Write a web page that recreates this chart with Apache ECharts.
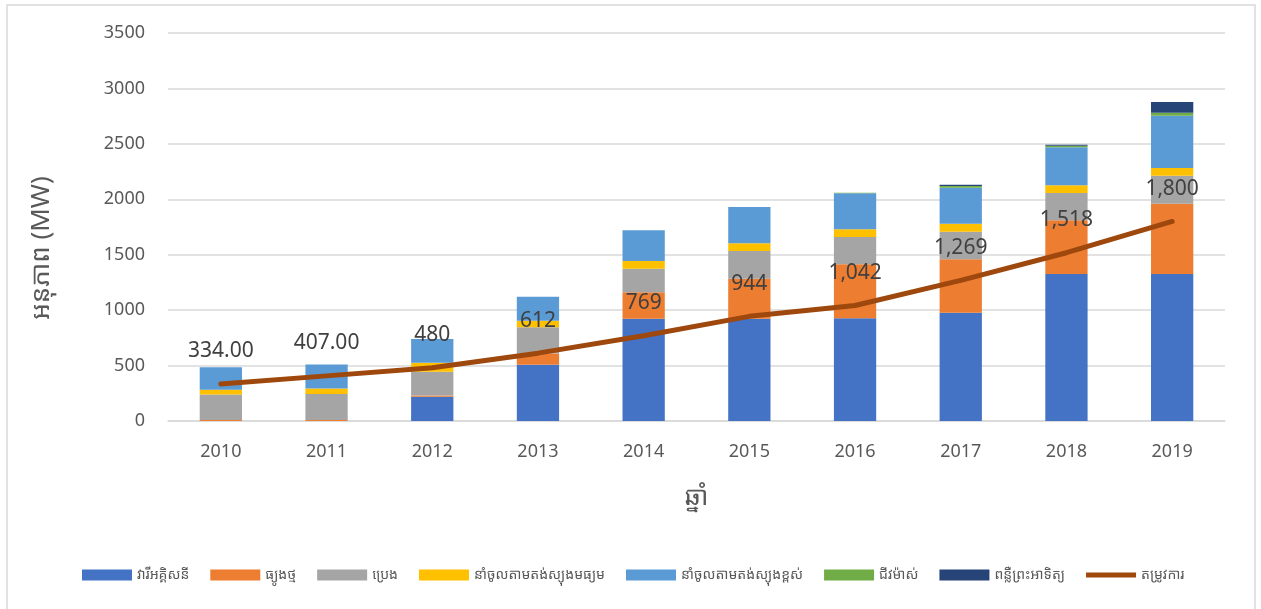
<!DOCTYPE html>
<html>
<head>
<meta charset="utf-8">
<script src="https://cdn.jsdelivr.net/npm/echarts@6/dist/echarts.min.js"></script>
<style>
html,body{margin:0;padding:0;background:#fff;}
#chart{width:1261px;height:609px;}
</style>
</head>
<body>
<div id="chart"></div>
<script>
const years = ['2010','2011','2012','2013','2014','2015','2016','2017','2018','2019'];
const hydro = [0, 0, 219, 508, 923, 923, 926, 977, 1326, 1326];
const coal = [8, 8, 12, 102, 238, 361, 487, 481, 484, 634];
const oil = [230, 235, 213, 235, 213, 250, 247, 250, 247, 253];
const importMedium = [45, 51, 81, 60, 69, 69, 69, 72, 69, 69];
const importHigh = [201, 216, 215, 216, 277, 328, 325, 325, 343, 472];
const biomass = [0, 0, 0, 0, 0, 0, 5, 15, 15, 27];
const solar = [0, 0, 0, 0, 0, 0, 0, 10, 9, 96];
const demand = [334, 407, 480, 612, 769, 944, 1042, 1269, 1518, 1800];
const demandLabels = ['334.00','407.00','480','612','769','944','1,042','1,269','1,518','1,800'];
const seriesNames = ['វារីអគ្គិសនី','ធ្យូងថ្ម','ប្រេង','នាំចូលតាមតង់ស្យុងមធ្យម','នាំចូលតាមតង់ស្យុងខ្ពស់','ជីវម៉ាស់','ពន្លឺព្រះអាទិត្យ','តម្រូវការ'];
const yTicks = [0, 500, 1000, 1500, 2000, 2500, 3000, 3500];

const FONT = '"Noto Sans Khmer","Khmer OS","Khmer OS System","Leelawadee UI","Noto Sans","DejaVu Sans",sans-serif';
const colors = ['#4472C4','#ED7D31','#A5A5A5','#FFC000','#5B9BD5','#70AD47','#264478','#9E480E'];
const barData = [hydro, coal, oil, importMedium, importHigh, biomass, solar];

const chart = echarts.init(document.getElementById('chart'), null, {renderer:'canvas'});
const series = barData.map((d, i) => ({
  name: seriesNames[i],
  type: 'bar',
  stack: 'total',
  barWidth: '40%',
  data: d,
  itemStyle: {color: colors[i]},
  emphasis: {disabled: true}
}));
series.push({
  name: seriesNames[7],
  type: 'line',
  data: demand,
  symbol: 'circle',
  symbolSize: 4,
  showSymbol: true,
  lineStyle: {color: colors[7], width: 5, cap: 'round'},
  itemStyle: {color: colors[7]},
  label: {
    show: true,
    position: 'top',
    distance: 20,
    fontSize: 21,
    color: '#404040',
    fontFamily: FONT,
    formatter: p => demandLabels[p.dataIndex]
  },
  labelLayout: {hideOverlap: false},
  emphasis: {disabled: true},
  z: 5
});

chart.setOption({
  animation: false,
  backgroundColor: '#fff',
  textStyle: {fontFamily: FONT},
  grid: {left: 168, right: 36, top: 33, bottom: 188, containLabel: false},
  legend: {
    bottom: 22,
    left: 77,
    itemWidth: 50,
    itemHeight: 11,
    itemGap: 21,
    textStyle: {fontSize: 14, color: '#595959', fontFamily: FONT},
    data: seriesNames.map((n, i) => i === 7 ? {name: n, icon: 'path://M0,3 L50,3 L50,8 L0,8 Z', itemStyle: {color: colors[7]}} : {name: n, icon: 'rect'})
  },
  xAxis: {
    type: 'category',
    data: years,
    name: 'ឆ្នាំ',
    nameLocation: 'middle',
    nameGap: 64,
    nameTextStyle: {fontSize: 26, color: '#595959', fontFamily: FONT},
    axisLine: {lineStyle: {color: '#D9D9D9', width: 1.5}},
    axisTick: {show: false},
    axisLabel: {fontSize: 18, color: '#595959', margin: 22, fontFamily: FONT}
  },
  yAxis: {
    type: 'value',
    min: 0,
    max: 3500,
    interval: 500,
    axisLine: {show: false},
    axisTick: {show: false},
    splitLine: {lineStyle: {color: '#D9D9D9', width: 1.5}},
    axisLabel: {fontSize: 18, color: '#595959', margin: 23, fontFamily: FONT,
      formatter: v => yTicks.includes(v) ? String(v) : ''}
  },
  graphic: [
    {type: 'rect', shape: {x: 7, y: 5, width: 1248, height: 620}, style: {fill: 'none', stroke: '#D9D9D9', lineWidth: 1.5}, silent: true},
    {type: 'text', x: 42, y: 248, rotation: Math.PI / 2,
      style: {text: 'អនុភាព (MW)', fontSize: 26, fill: '#595959', fontFamily: FONT, align: 'center', verticalAlign: 'middle'}}
  ],
  series: series
});
</script>
</body>
</html>
